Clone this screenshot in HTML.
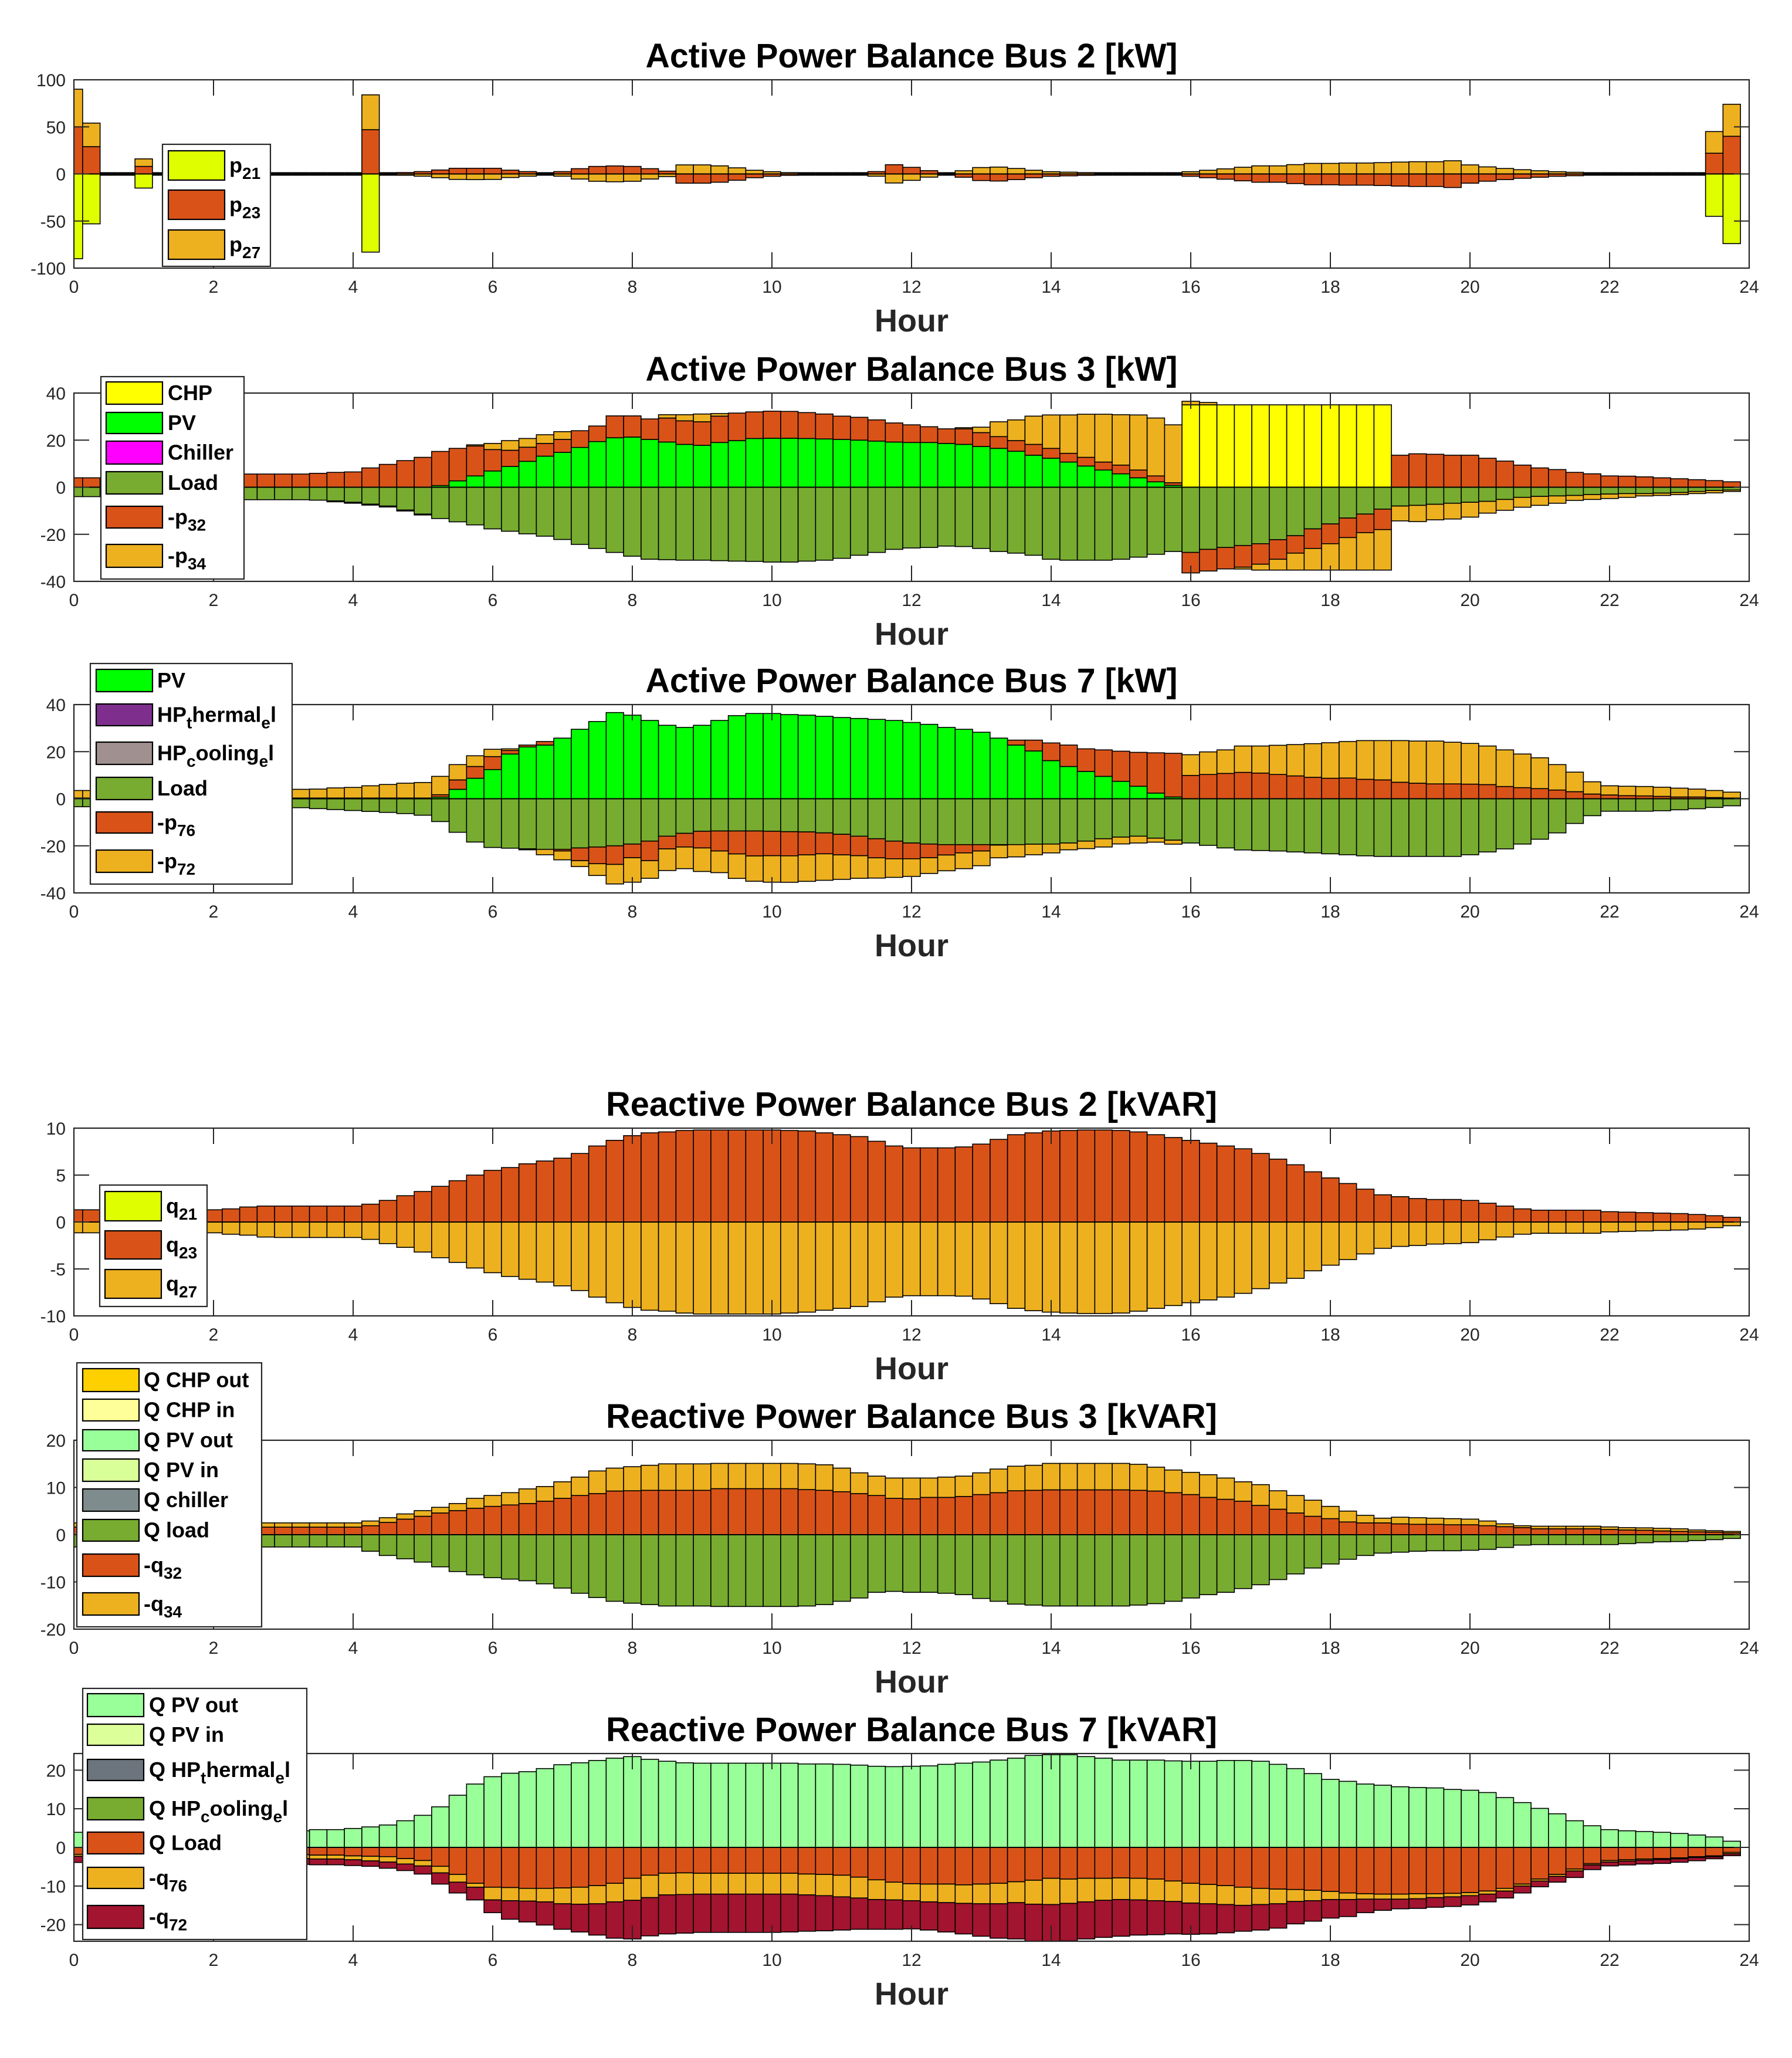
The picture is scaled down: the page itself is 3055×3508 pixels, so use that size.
<!DOCTYPE html>
<html><head><meta charset="utf-8"><title>Power Balance</title>
<style>
html,body{margin:0;padding:0;background:#fff;}
svg{display:block;font-family:"Liberation Sans",Arial,sans-serif;}
</style></head>
<body>
<svg id="fig" xmlns="http://www.w3.org/2000/svg" width="3055" height="3508" viewBox="0 0 3055 3508">
<rect x="0" y="0" width="3055" height="3508" fill="#fff"/>
</svg>
<script>
// ---------------- DATA ----------------
const hours = [0,2,4,6,8,10,12,14,16,18,20,22,24];
const xTickLabels = ["0","2","4","6","8","10","12","14","16","18","20","22","24"];

// Panel 1: Active power balance bus 2
const p21 = [-90,-53,0,0,-15,0,0,0,0,0,0,0,0,0,0,0,0,-83,0,0,0,0,0,0,0,0,0,0,0,0,0,0,0,0,0,0,0,0,0,0,0,0,0,0,0,0,0,0,0,0,0,0,0,0,0,0,0,0,0,0,0,0,0,0,0,0,0,0,0,0,0,0,0,0,0,0,0,0,0,0,0,0,0,0,0,0,0,0,0,0,0,0,0,0,-45,-74];
const p23 = [50,29,0,0,8,0,0,0,0,0,0,0,0,0,0,0,0,47,0,1.5,2.5,4.2,6,6,6,4,2.5,0,2.5,5.6,8,8.5,8,5.6,3,-9.8,-9.8,-8.8,-6.7,-4,-2.5,-1.5,0,0,0,0,2.5,9.8,7,3.5,0,-3.5,-7,-7.5,-6,-4,-2.5,-2,-1.5,0,0,0,0,0,-2.5,-4,-5.6,-7.3,-8.8,-8.8,-10.2,-11.5,-11.5,-11.9,-11.9,-12.3,-12.9,-13.3,-13.3,-14.4,-9.8,-7.7,-6,-4.6,-3.5,-2.5,-1.9,0,0,0,0,0,0,0,22,40];
const p27 = [40,25,0,0,8,0,0,0,0,0,0,0,0,0,0,0,0,37,0,-1.4,-2.4,-4,-5.8,-6,-5.8,-3.8,-2.4,0,-2.4,-5.4,-7.8,-8.3,-7.8,-5.4,-2.8,9.6,9.6,8.6,6.5,3.9,2.4,1.4,0,0,0,0,-2.4,-9.6,-6.8,-3.4,0,3.4,6.8,7.3,5.8,3.9,2.4,1.9,1.4,0,0,0,0,0,2.4,3.9,5.4,7.1,8.6,8.6,9.9,11.2,11.2,11.6,11.6,12,12.6,13,13,14,9.6,7.5,5.8,4.5,3.4,2.4,1.8,0,0,0,0,0,0,0,23,34];

// Panel 2: Active power balance bus 3
const chp3 = [0,0,0,0,0,0,0,0,0,0,0,0,0,0,0,0,0,0,0,0,0,0,0,0,0,0,0,0,0,0,0,0,0,0,0,0,0,0,0,0,0,0,0,0,0,0,0,0,0,0,0,0,0,0,0,0,0,0,0,0,0,0,0,0,35,35,35,35,35,35,35,35,35,35,35,35,0,0,0,0,0,0,0,0,0,0,0,0,0,0,0,0,0,0,0,0];
const pv3 = [0,0,0,0,0,0,0,0,0,0,0,0,0,0,0,0,0,0,0,0,0,0.7,2.7,4.8,6.9,8.8,11,13.2,14.8,16.9,19.4,21,21.3,20.3,19.2,18.2,17.8,19,19.8,20.7,20.8,20.8,20.7,20.5,20.3,20,19.6,19.2,19,19,18.6,18.2,17.3,16.5,15.3,13.6,12.3,10.7,9,7.3,5.7,4,2.3,0.8,0,0,0,0,0,0,0,0,0,0,0,0,0,0,0,0,0,0,0,0,0,0,0,0,0,0,0,0,0,0,0,0];
const chiller3 = [0,0,0,0,0,0,0,0,0,0,0,0,0,0,0,0,0,0,0,0,0,0,0,0,0,0,0,0,0,0,0,0,0,0,0,0,0,0,0,0,0,0,0,0,0,0,0,0,0,0,0,0,0,0,0,0,0,0,0,0,0,0,0,0,0,0,0,0,0,0,0,0,0,0,0,0,0,0,0,0,0,0,0,0,0,0,0,0,0,0,0,0,0,0,0,0];
const load3 = [-4,-4,-4,-4,-4,-4,-4,-4,-4,-4,-5.3,-5.3,-5.3,-5.3,-5.5,-5.8,-6.4,-7.2,-8,-9.7,-11.4,-13.3,-14.7,-16,-17.7,-18.7,-19.8,-20.8,-22.2,-24.3,-26,-27.7,-29.3,-30.6,-30.8,-31,-31,-31.2,-31.4,-31.5,-31.8,-31.8,-31.4,-31,-30.2,-28.9,-27.7,-26.4,-25.8,-25.6,-25,-25.2,-26,-27.3,-28,-28.9,-30.6,-31,-31,-31,-30.6,-29.7,-28.5,-27.3,-27.7,-26.4,-25.6,-24.75,-24,-22.3,-20.6,-17.7,-15.6,-13.1,-11.4,-9.3,-8,-7.7,-7.25,-6.8,-6.4,-6,-5.2,-4.3,-3.9,-3.7,-3.5,-3.1,-2.9,-2.7,-2.7,-2.5,-2.25,-1.8,-1.4,-1.2];
const mp32 = [4,4,4,4,4,4,4,4,4,4,5.6,5.6,5.6,5.6,5.9,6.3,6.5,8.2,9.7,11.3,12.7,14.5,13.8,12.7,9.1,6.9,6,5.4,5.5,7.1,6.6,9.3,9,8.7,10.2,10,10,11.2,11.7,11.3,11.5,11.4,11,10.6,9.9,9.7,9,8.1,7.5,6.7,6.2,6.6,5.9,5,4.5,4.6,4.2,3.7,3.7,3.4,3.7,3.3,2.5,1.1,-8.7,-9.2,-9.1,-9.2,-8.7,-8.3,-7.4,-8.3,-8.4,-8.3,-7.9,-8.7,13.6,14.2,14,13.6,13.6,12.3,11.1,9.4,8.2,7.5,6.3,5.7,4.8,4.7,4.4,4,3.6,3.2,2.8,2.3];
const mp34 = [0,0,0,0,0,0,0,0,0,0,0,0,0,0,0,-0.4,-0.4,-0.4,-0.4,-0.4,-0.4,0,0,0.5,2.6,4.1,3.7,3.7,3.3,0,0,0,0,0,1.4,2.6,3.3,1.1,0,0,0,0,0,0,0,0,0,0,0,0,0,0.5,2.3,6.3,8.8,12,14.2,16.3,18.3,20.3,21.4,23.4,24.6,24.6,1.5,1,0,-0.8,-2.5,-4.6,-7.2,-9.2,-11.2,-13.8,-15.9,-17.2,-6.3,-6.9,-6.6,-6.7,-6.3,-5,-4.6,-4.2,-3.8,-3.1,-2.1,-2.1,-1.9,-1.6,-1,-1,-0.9,-0.9,-1,-0.6];

// Panel 3: Active power balance bus 7
const pv7 = [0,0,0,0,0,0,0,0,0,0,0,0,0,0,0,0,0,0,0,0,0,0.7,4,8.7,12.4,19,22,22.8,25.75,29.5,32.8,36.6,35.5,33.25,31.2,30.3,31.2,33.25,35.3,36.2,36.2,35.75,35.5,35,34.5,34.1,33.7,33.25,32.4,31.6,30.3,29.5,28.25,25.75,22.8,20.3,16.2,13.7,11.6,9.5,7.4,5.3,2.4,0.75,0,0,0,0,0,0,0,0,0,0,0,0,0,0,0,0,0,0,0,0,0,0,0,0,0,0,0,0,0,0,0,0];
const hpThermal7 = [0,0,0,0,0,0,0,0,0,0,0,0,0,0,0,0,0,0,0,0,0,0,0,0,0,0,0,0,0,0,0,0,0,0,0,0,0,0,0,0,0,0,0,0,0,0,0,0,0,0,0,0,0,0,0,0,0,0,0,0,0,0,0,0,0,0,0,0,0,0,0,0,0,0,0,0,0,0,0,0,0,0,0,0,0,0,0,0,0,0,0,0,0,0,0,0];
const hpCooling7 = [0,0,0,0,0,0,0,0,0,0,0,0,0,0,0,0,0,0,0,0,0,0,0,0,0,0,0,0,0,0,0,0,0,0,0,0,0,0,0,0,0,0,0,0,0,0,0,0,0,0,0,0,0,0,0,0,0,0,0,0,0,0,0,0,0,0,0,0,0,0,0,0,0,0,0,0,0,0,0,0,0,0,0,0,0,0,0,0,0,0,0,0,0,0,0,0];
const load7 = [-3.4,-3.4,-3.4,-3.4,-3.4,-3.4,-3.4,-3.4,-3.4,-3.4,-3.4,-3.4,-3.4,-3.8,-4.2,-4.6,-5,-5.4,-5.8,-6.3,-7,-9.7,-14.25,-18.4,-20.7,-21,-21.3,-21.5,-21.5,-20.9,-20.5,-20,-19.25,-18,-15.9,-14.7,-13.8,-13.7,-13.7,-13.7,-13.8,-14,-14.1,-14.5,-15.1,-15.9,-17,-18,-18.8,-19.25,-19.5,-19.5,-19.5,-19.5,-19.5,-19.3,-19.25,-18.8,-18,-17,-16.3,-15.9,-16.75,-17.6,-18.8,-19.8,-20.9,-21.75,-22,-22.2,-22.6,-23,-23.4,-23.8,-24.25,-24.5,-24.5,-24.5,-24.5,-24.5,-23.8,-22.6,-21.3,-19.25,-17.2,-14.5,-10.5,-7.2,-5.3,-5.3,-5.3,-5.1,-4.7,-4.25,-3.7,-3];
const mp76 = [0.3,0.3,0.3,0.3,0.3,0.3,0.3,0.3,0.3,0.3,0.3,0.3,0.3,0.3,0.3,0.3,0.3,0.3,0.3,0.3,0.3,1,4,5,5.5,1.5,0.8,1.5,-0.7,-5.4,-7.1,-7.9,-5.8,-8.3,-5.4,-5.8,-7.1,-8.5,-9.75,-10.6,-10.4,-10.25,-9.75,-8.9,-8.75,-8.3,-8.1,-7.5,-6.7,-5.8,-4.4,-3.5,-2.7,-0.2,2.1,4.6,7.5,9.1,9.6,11.25,12.8,14.4,17.1,18.55,9.9,10.3,10.75,11.2,10.9,10.3,9.7,9.1,8.7,8.8,8.25,8,7,6.6,6.3,6.3,6.2,6,5.2,4.7,4.3,3.7,3,2,1.6,1.3,1.2,1,0.75,0.75,0.5,0.3];
const mp72 = [3.2,3.2,3.2,3.2,3.2,3.2,3.2,3.2,3.2,3.2,3.2,3.2,3.2,3.7,3.8,4.3,4.5,5.2,5.75,6.3,6.6,7.8,6.5,4.55,3.1,0.7,-0.4,-2.3,-3.75,-2.5,-5,-8.3,-10.4,-7.5,-9.2,-9.2,-10,-9.2,-10.4,-10.75,-11.25,-11.25,-11.25,-11.25,-10.4,-9.6,-8.6,-7.9,-7.5,-6.7,-6.7,-6.7,-6.25,-5.4,-5.2,-4.5,-3.75,-2.9,-3.2,-3.5,-2.9,-2.9,-1.7,-1.7,8.8,9.6,10,11.2,11.5,12.4,13.3,14.3,15.1,15.5,16.45,16.7,17.7,17.9,18.2,17.7,17.3,16.4,15.55,14.3,13.1,10.8,8.3,5.2,3.9,4,4,3.9,3.75,3.35,3,2.5];

// Panel 4: Reactive power balance bus 2
const q21 = [0,0,0,0,0,0,0,0,0,0,0,0,0,0,0,0,0,0,0,0,0,0,0,0,0,0,0,0,0,0,0,0,0,0,0,0,0,0,0,0,0,0,0,0,0,0,0,0,0,0,0,0,0,0,0,0,0,0,0,0,0,0,0,0,0,0,0,0,0,0,0,0,0,0,0,0,0,0,0,0,0,0,0,0,0,0,0,0,0,0,0,0,0,0,0,0];
const q23 = [1.3,1.3,1.3,1.3,1.3,1.3,1.3,1.3,1.3,1.4,1.6,1.7,1.7,1.7,1.7,1.7,1.7,1.9,2.3,2.8,3.25,3.8,4.4,5,5.5,5.8,6.2,6.5,6.8,7.3,8.1,8.7,9.2,9.5,9.6,9.75,9.8,9.8,9.8,9.8,9.8,9.75,9.7,9.5,9.3,9.1,8.6,8.1,7.9,7.9,7.9,8,8.3,8.8,9.3,9.5,9.7,9.75,9.8,9.8,9.75,9.6,9.3,9,8.7,8.4,8.1,7.8,7.3,6.7,6.1,5.35,4.7,4.1,3.5,2.9,2.7,2.5,2.4,2.4,2.3,2,1.7,1.4,1.26,1.26,1.26,1.26,1.1,1.05,1,0.95,0.9,0.8,0.67,0.5];
const q27 = [-1.15,-1.15,-1.15,-1.15,-1.15,-1.15,-1.15,-1.15,-1.15,-1.3,-1.4,-1.6,-1.65,-1.65,-1.65,-1.65,-1.65,-1.85,-2.3,-2.7,-3.2,-3.8,-4.3,-4.9,-5.4,-5.8,-6.1,-6.4,-6.8,-7.3,-8,-8.6,-9.1,-9.4,-9.5,-9.7,-9.8,-9.8,-9.8,-9.8,-9.8,-9.7,-9.6,-9.4,-9.2,-9,-8.5,-8,-7.85,-7.85,-7.85,-7.9,-8.2,-8.7,-9.2,-9.45,-9.6,-9.7,-9.75,-9.75,-9.7,-9.5,-9.2,-8.9,-8.6,-8.3,-8,-7.6,-7.1,-6.5,-6,-5.2,-4.6,-4,-3.4,-2.8,-2.6,-2.5,-2.35,-2.3,-2.2,-1.9,-1.6,-1.3,-1.2,-1.2,-1.2,-1.2,-1.05,-1,-0.95,-0.9,-0.85,-0.75,-0.6,-0.4];

// Panel 5: Reactive power balance bus 3
const qZero = [0,0,0,0,0,0,0,0,0,0,0,0,0,0,0,0,0,0,0,0,0,0,0,0,0,0,0,0,0,0,0,0,0,0,0,0,0,0,0,0,0,0,0,0,0,0,0,0,0,0,0,0,0,0,0,0,0,0,0,0,0,0,0,0,0,0,0,0,0,0,0,0,0,0,0,0,0,0,0,0,0,0,0,0,0,0,0,0,0,0,0,0,0,0,0,0];
const qload3 = [-2.6,-2.6,-2.6,-2.6,-2.6,-2.6,-2.6,-2.6,-2.6,-2.6,-2.6,-2.6,-2.6,-2.6,-2.6,-2.6,-2.6,-3.5,-4.4,-5.1,-5.8,-6.8,-7.8,-8.5,-9.1,-9.4,-9.75,-10.4,-11.3,-12.4,-13.3,-14.1,-14.5,-14.8,-15.1,-15.1,-15.1,-15.2,-15.2,-15.2,-15.2,-15.2,-15.1,-14.8,-14.1,-13.4,-12.2,-12,-12.2,-12.2,-12.4,-12.7,-13.5,-14.1,-14.7,-14.9,-15.1,-15.1,-15.1,-15.1,-15.1,-14.9,-14.6,-14.1,-13.4,-12.7,-12.2,-11.4,-10.6,-9.5,-8.3,-7.05,-6.2,-5.2,-4.4,-3.9,-3.7,-3.5,-3.4,-3.4,-3.3,-3.1,-2.7,-2.2,-2.1,-2.1,-2.1,-2.1,-2.1,-1.9,-1.7,-1.5,-1.45,-1.25,-1.05,-0.8];
const mq32 = [1.6,1.6,1.6,1.6,1.6,1.6,1.6,1.6,1.6,1.6,1.6,1.6,1.6,1.6,1.6,1.6,1.6,1.9,2.6,3.3,3.9,4.6,5.1,5.6,6,6.3,6.6,7.1,7.7,8.3,8.7,9.25,9.3,9.4,9.4,9.4,9.4,9.75,9.75,9.75,9.75,9.75,9.55,9.4,9.1,8.7,8.3,7.7,7.6,7.9,7.9,8.1,8.5,8.9,9.3,9.4,9.5,9.5,9.5,9.5,9.5,9.4,9.25,8.9,8.5,7.9,7.5,7.1,6.2,5.4,4.6,3.9,3.4,2.7,2.5,2.5,2.3,2.2,2.2,2.1,2.1,1.9,1.7,1.5,1.25,1.25,1.25,1.25,1.1,1,0.95,0.8,0.7,0.6,0.55,0.4];
const mq34 = [0.9,0.9,0.9,0.9,0.9,0.9,0.9,0.9,0.9,0.9,0.9,0.9,0.9,0.9,0.9,0.9,0.9,1,1,1.1,1.2,1.2,1.5,2.1,2.3,2.6,3.1,3.1,3.5,3.9,4.8,4.85,5.1,5.3,5.6,5.6,5.6,5.35,5.35,5.35,5.35,5.35,5.45,5.4,5,4.4,4.1,4.3,4.4,4.1,4.3,4.3,4.6,5,5.2,5.3,5.6,5.6,5.6,5.6,5.6,5.5,5.05,4.8,4.7,4.8,4.5,4.1,4.4,3.9,3.7,3.4,2.6,2.3,1.6,1,1.4,1.4,1.3,1.3,1.2,1,0.6,0.4,0.55,0.55,0.55,0.55,0.55,0.5,0.5,0.55,0.55,0.4,0.3,0.3];

// Panel 6: Reactive power balance bus 7
const qpvOut7 = [3.9,3.9,3.9,3.9,3.9,3.9,3.9,3.9,3.9,3.9,3.9,3.9,3.9,4.3,4.6,4.6,4.9,5.3,5.8,6.9,8.3,10.5,13.5,16.4,18.3,19.2,19.6,20.4,21.4,21.9,22.5,23.1,23.5,22.8,22.3,21.9,21.8,21.8,21.8,21.8,21.8,21.8,21.6,21.6,21.5,21.3,21,20.9,21,21.1,21.5,21.8,22.1,22.6,23.1,23.8,24,24,23.5,23.1,22.6,22.6,22.6,22.4,22.3,22.3,22.5,22.5,22.3,21.5,20.4,19.1,17.6,17.1,16.4,16.1,15.7,15.5,15.4,15,14.8,14.2,12.9,11.6,10.1,8.7,6.9,5.6,4.6,4.3,4.1,3.9,3.6,3.2,2.7,1.6];
const qload7 = [-1.8,-1.8,-1.8,-1.8,-1.8,-1.8,-1.8,-1.8,-1.8,-1.8,-1.8,-1.8,-1.8,-1.9,-2,-2,-2.2,-2.3,-2.4,-2.9,-3.4,-4.9,-7,-9.3,-10.3,-10.4,-10.6,-10.6,-10.5,-10.3,-9.9,-9.3,-8,-7.2,-6.7,-6.6,-6.7,-6.7,-6.7,-6.7,-6.7,-6.7,-6.9,-7,-7.2,-7.7,-8.4,-9,-9.4,-9.5,-9.5,-9.7,-9.5,-9.3,-8.9,-8.5,-8,-8.2,-8,-8,-7.9,-8,-8.2,-8.7,-9.3,-9.6,-9.9,-10.3,-10.6,-10.8,-10.9,-11.1,-11.4,-11.8,-12,-12.1,-12.1,-12,-12,-11.9,-11.7,-11.3,-10.6,-9.5,-8.2,-7,-5.6,-4.2,-3.4,-3.2,-3,-2.9,-2.7,-2.4,-2.2,-1.3];
const mq76 = [-0.5,-0.5,-0.5,-0.5,-0.5,-0.5,-0.5,-0.5,-0.5,-0.5,-0.5,-0.5,-0.5,-1,-1,-1,-1,-1.2,-1.4,-1.4,-1.4,-1.7,-2,-1,-3.3,-3.4,-3.3,-3.5,-4.1,-4.4,-4.7,-4.8,-5.7,-5.8,-5.6,-5.6,-5.4,-5.4,-5.4,-5.4,-5.4,-5.4,-5.4,-5.5,-5.6,-5.4,-5.1,-4.6,-4.4,-4.6,-4.8,-4.8,-5.1,-5.3,-5.4,-6.2,-6.8,-6.3,-6.1,-5.7,-5.6,-5.6,-5.6,-5.3,-5.1,-5,-4.9,-4.7,-4.2,-3.8,-3.1,-2.7,-2.1,-1.7,-1.4,-1.3,-1.3,-1.3,-1,-0.9,-0.8,-0.8,-0.7,-0.5,-0.5,-0.5,-0.5,-0.35,-0.4,-0.35,-0.3,-0.25,-0.25,-0.25,-0.25,-0.35];
const mq72 = [-1.6,-1.6,-1.6,-1.6,-1.6,-1.6,-1.6,-1.6,-1.6,-1.6,-1.6,-1.6,-1.6,-1.5,-1.5,-1.5,-1.5,-1.4,-1.6,-1.7,-2.1,-2.9,-2.8,-3.3,-3.3,-4.8,-5.4,-6,-6.6,-7.2,-8.1,-9.4,-10,-9.9,-10.1,-10,-9.9,-9.9,-9.9,-9.9,-9.9,-9.8,-9.4,-9.1,-8.6,-8.1,-7.7,-7.6,-7.3,-7.3,-7.6,-7.9,-8.4,-8.9,-9.4,-9.6,-9.6,-9.7,-9.6,-9.6,-9.5,-9.1,-8.8,-8.4,-8.1,-7.8,-7.3,-6.7,-6.6,-6.3,-5.8,-5.3,-4.8,-4.4,-3.5,-2.9,-2.5,-2.5,-2.5,-2.5,-2.4,-2,-1.8,-1.8,-1.5,-1.5,-1.7,-1.2,-1,-1,-1,-1,-0.9,-0.8,-0.5,-0.5];

// y tick labels per panel
const yTicks1 = [-100,-50,0,50,100];
const yTicks2 = [-40,-20,0,20,40];
const yTicks3 = [-40,-20,0,20,40];
const yTicks4 = [-10,-5,0,5,10];
const yTicks5 = [-20,-10,0,10,20];
const yTicks6 = [-20,-10,0,10,20];

// ---------------- LAYOUT ----------------
const NS = "http://www.w3.org/2000/svg";
const svg = document.getElementById('fig');
const AX0 = 126, AX1 = 2982;
const BARW = 0.25;
function xs(h){ return AX0 + (h/24)*(AX1-AX0); }

function mk(tag, attrs, parent){
  const e = document.createElementNS(NS, tag);
  for (const k in attrs) e.setAttribute(k, attrs[k]);
  (parent||svg).appendChild(e);
  return e;
}

const panels = [
 {id:'p1', top:136, bottom:457, ymin:-100, ymax:100, ticks:yTicks1, title:'Active Power Balance Bus 2 [kW]', tw:907,
  series:[p21,p23,p27], colors:['#DFFF00','#D95319','#EDB120'], names:['p21','p23','p27'], thickZero:true,
  legend:{x:277,y:246,w:184,h:208,sx:287,sw:96,tx:391,rows:[[257,307],[324,374],[392,442]],
   labels:[[['p',0],['21',1]],[['p',0],['23',1]],[['p',0],['27',1]]]}},
 {id:'p2', top:670, bottom:991, ymin:-40, ymax:40, ticks:yTicks2, title:'Active Power Balance Bus 3 [kW]', tw:907,
  series:[chp3,pv3,chiller3,load3,mp32,mp34], colors:['#FFFF00','#00FF00','#FF00FF','#77AC30','#D95319','#EDB120'], names:['chp','pv','chiller','load','minus-p32','minus-p34'],
  legend:{x:172,y:642,w:244,h:345,sx:181,sw:96,tx:286,rows:[[651,689],[703,739],[752,791],[804,842],[863,900],[928,967]],
   labels:[[['CHP',0]],[['PV',0]],[['Chiller',0]],[['Load',0]],[['-p',0],['32',1]],[['-p',0],['34',1]]]}},
 {id:'p3', top:1201, bottom:1522, ymin:-40, ymax:40, ticks:yTicks3, title:'Active Power Balance Bus 7 [kW]', tw:907,
  series:[pv7,hpThermal7,hpCooling7,load7,mp76,mp72], colors:['#00FF00','#7E2F8E','#A09090','#77AC30','#D95319','#EDB120'], names:['pv','hp-thermal-el','hp-cooling-el','load','minus-p76','minus-p72'],
  legend:{x:154,y:1131,w:344,h:376,sx:164,sw:96,tx:268,rows:[[1141,1179],[1200,1237],[1265,1303],[1325,1363],[1384,1420],[1449,1487]],
   labels:[[['PV',0]],[['HP',0],['t',1],['hermal',0],['e',1],['l',0]],[['HP',0],['c',1],['ooling',0],['e',1],['l',0]],[['Load',0]],[['-p',0],['76',1]],[['-p',0],['72',1]]]}},
 {id:'p4', top:1923, bottom:2243, ymin:-10, ymax:10, ticks:yTicks4, title:'Reactive Power Balance Bus 2 [kVAR]', tw:1042,
  series:[q21,q23,q27], colors:['#DFFF00','#D95319','#EDB120'], names:['q21','q23','q27'],
  legend:{x:170,y:2020,w:183,h:207,sx:179,sw:96,tx:283,rows:[[2031,2081],[2098,2146],[2164,2213]],
   labels:[[['q',0],['21',1]],[['q',0],['23',1]],[['q',0],['27',1]]]}},
 {id:'p5', top:2455, bottom:2777, ymin:-20, ymax:20, ticks:yTicks5, title:'Reactive Power Balance Bus 3 [kVAR]', tw:1042,
  series:[qZero,qZero,qZero,qZero,qZero,qload3,mq32,mq34], colors:['#FFD000','#FFFF99','#99FF99','#D9FF99','#7F8C8D','#77AC30','#D95319','#EDB120'], names:['q-chp-out','q-chp-in','q-pv-out','q-pv-in','q-chiller','q-load','minus-q32','minus-q34'],
  legend:{x:131,y:2323,w:315,h:450,sx:141,sw:96,tx:245,rows:[[2333,2372],[2385,2422],[2437,2473],[2487,2525],[2538,2576],[2590,2627],[2649,2687],[2715,2753]],
   labels:[[['Q CHP out',0]],[['Q CHP in',0]],[['Q PV out',0]],[['Q PV in',0]],[['Q chiller',0]],[['Q load',0]],[['-q',0],['32',1]],[['-q',0],['34',1]]]}},
 {id:'p6', top:2989, bottom:3309, ymin:-24.3, ymax:24.3, ticks:yTicks6, title:'Reactive Power Balance Bus 7 [kVAR]', tw:1042,
  series:[qpvOut7,qZero,qZero,qZero,qload7,mq76,mq72], colors:['#99FF99','#DDFF99','#6C757D','#77AC30','#D95319','#EDB120','#A2142F'], names:['q-pv-out','q-pv-in','q-hp-thermal-el','q-hp-cooling-el','q-load','minus-q76','minus-q72'],
  legend:{x:141,y:2878,w:382,h:428,sx:149,sw:96,tx:254,rows:[[2887,2926],[2939,2975],[2999,3035],[3064,3102],[3123,3160],[3183,3219],[3248,3287]],
   labels:[[['Q PV out',0]],[['Q PV in',0]],[['Q HP',0],['t',1],['hermal',0],['e',1],['l',0]],[['Q HP',0],['c',1],['ooling',0],['e',1],['l',0]],[['Q Load',0]],[['-q',0],['76',1]],[['-q',0],['72',1]]]}}
];

const defs = mk('defs', {});

panels.forEach(function(p){
  const ys = function(v){ return p.top + (p.ymax - v)/(p.ymax - p.ymin)*(p.bottom - p.top); };
  const g = mk('g', {});
  
  

  const cp = mk('clipPath', {id:'clip-'+p.id}, defs);
  mk('rect', {x:AX0, y:p.top, width:AX1-AX0, height:p.bottom-p.top}, cp);

  // bars
  const bars = mk('g', {'clip-path':'url(#clip-'+p.id+')'}, g);
  
  
  const n = p.series[0].length;
  for (let i=0;i<n;i++){
    let pos=0, neg=0, any=false;
    const xl = xs(i*BARW - BARW/2), xr = xs(i*BARW + BARW/2);
    for (let s=0;s<p.series.length;s++){
      const v = p.series[s][i];
      if (!v) continue;
      any = true;
      let a, b;
      if (v > 0){ a = pos; b = pos + v; pos = b; } else { a = neg; b = neg + v; neg = b; }
      const y1 = ys(Math.max(a,b)), y2 = ys(Math.min(a,b));
      const r = mk('rect', {x:xl, y:y1, width:xr-xl, height:Math.max(0.5,y2-y1), fill:p.colors[s], stroke:'#000', 'stroke-width':1.6}, bars);
      
      
    }
    if (!any && p.thickZero){
      const z = mk('line', {x1:xl, x2:xr, y1:ys(0), y2:ys(0), stroke:'#000', 'stroke-width':6}, bars);
      
      
    }
  }
  const zl = mk('line', {x1:AX0, x2:AX1, y1:ys(0), y2:ys(0), stroke:'#000', 'stroke-width':2}, bars);
  
  

  // axes box
  const box = mk('rect', {x:AX0, y:p.top, width:AX1-AX0, height:p.bottom-p.top, fill:'none', stroke:'#262626', 'stroke-width':2.2}, g);
  
  

  // x ticks
  for (let k=0;k<hours.length;k++){
    const x = xs(hours[k]);
    mk('line', {x1:x, x2:x, y1:p.bottom, y2:p.bottom-27, stroke:'#262626', 'stroke-width':2}, g);
    mk('line', {x1:x, x2:x, y1:p.top, y2:p.top+27, stroke:'#262626', 'stroke-width':2}, g);
    const t = mk('text', {x:x, y:p.bottom+42, 'text-anchor':'middle', 'font-size':30, fill:'#262626'}, g);
    t.textContent = xTickLabels[k];
    
    
  }
  // y ticks
  p.ticks.forEach(function(v){
    const y = ys(v);
    mk('line', {x1:AX0, x2:AX0+26, y1:y, y2:y, stroke:'#262626', 'stroke-width':2}, g);
    mk('line', {x1:AX1, x2:AX1-26, y1:y, y2:y, stroke:'#262626', 'stroke-width':2}, g);
    const t = mk('text', {x:112, y:y+11, 'text-anchor':'end', 'font-size':30, fill:'#262626'}, g);
    t.textContent = String(v);
    
    
  });

  // title and x label
  const ti = mk('text', {x:(AX0+AX1)/2, y:p.top-21, 'text-anchor':'middle', 'font-size':58, 'font-weight':'bold', fill:'#000', textLength:p.tw, lengthAdjust:'spacingAndGlyphs'}, g);
  ti.textContent = p.title;
  
  
  const xl = mk('text', {x:(AX0+AX1)/2, y:p.bottom+108, 'text-anchor':'middle', 'font-size':54, 'font-weight':'bold', fill:'#262626'}, g);
  xl.textContent = 'Hour';
  
  

  // legend
  const L = p.legend;
  const lg = mk('g', {}, g);
  
  
  mk('rect', {x:L.x, y:L.y, width:L.w, height:L.h, fill:'#fff', stroke:'#262626', 'stroke-width':2.2}, lg);
  L.rows.forEach(function(r, j){
    const e = mk('g', {}, lg);
    
    
    mk('rect', {x:L.sx, y:r[0], width:L.sw, height:r[1]-r[0], fill:p.colors[j], stroke:'#000', 'stroke-width':2.2}, e);
    const cy = (r[0]+r[1])/2;
    const t = mk('text', {x:L.tx, y:cy+12, 'font-size':36, 'font-weight':'bold', fill:'#000'}, e);
    let sub = false;
    L.labels[j].forEach(function(part){
      const ts = document.createElementNS(NS, 'tspan');
      if (part[1] && !sub){ ts.setAttribute('dy', '11'); ts.setAttribute('font-size', '28'); sub = true; }
      else if (part[1]) { ts.setAttribute('font-size', '28'); }
      else if (!part[1] && sub){ ts.setAttribute('dy', '-11'); sub = false; }
      ts.textContent = part[0];
      t.appendChild(ts);
    });
  });
});
</script>
</body></html>
